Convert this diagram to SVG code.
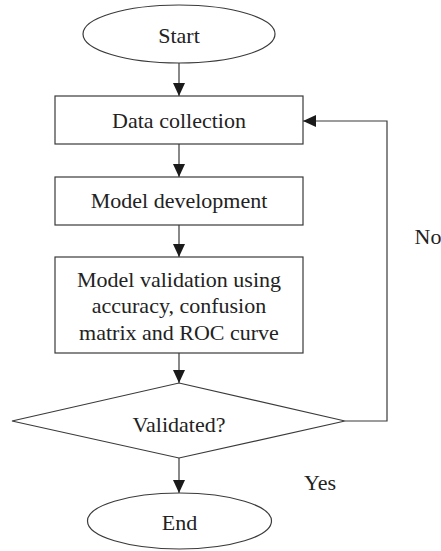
<svg xmlns="http://www.w3.org/2000/svg" width="441" height="551" viewBox="0 0 441 551">
  <style>
    .shape { fill: #ffffff; stroke: #3a3a3a; stroke-width: 1.2; }
    .line { fill: none; stroke: #3a3a3a; stroke-width: 1.2; }
    .label { font-family: "Liberation Serif", "Times New Roman", serif; font-size: 22px; fill: #222222; text-anchor: middle; }
  </style>
  <defs>
    <marker id="arrow" markerUnits="userSpaceOnUse" markerWidth="14" markerHeight="12" viewBox="0 0 14 12" refX="13" refY="6" orient="auto">
      <path d="M0,0 L13,6 L0,12 Z" fill="#1a1a1a"/>
    </marker>
  </defs>
  <rect width="441" height="551" fill="#ffffff"/>

  <g id="connectors">
    <line class="line" x1="179" y1="63" x2="179" y2="96" marker-end="url(#arrow)"/>
    <line class="line" x1="179" y1="144" x2="179" y2="177" marker-end="url(#arrow)"/>
    <line class="line" x1="179" y1="225" x2="179" y2="257" marker-end="url(#arrow)"/>
    <line class="line" x1="179" y1="353" x2="179" y2="383" marker-end="url(#arrow)"/>
    <line class="line" x1="179" y1="458" x2="179" y2="493" marker-end="url(#arrow)"/>
    <polyline class="line" points="345,421 387,421 387,121 303,121" marker-end="url(#arrow)"/>
    <text class="label" x="428" y="244">No</text>
    <text class="label" x="320" y="490">Yes</text>
  </g>

  <g id="start">
    <ellipse class="shape" cx="179" cy="34" rx="96" ry="29"/>
    <text class="label" x="179" y="43">Start</text>
  </g>

  <g id="data-collection">
    <rect class="shape" x="55" y="96" width="248" height="48"/>
    <text class="label" x="179" y="128">Data collection</text>
  </g>

  <g id="model-development">
    <rect class="shape" x="55" y="177" width="248" height="48"/>
    <text class="label" x="179" y="208">Model development</text>
  </g>

  <g id="model-validation">
    <rect class="shape" x="55" y="257" width="248" height="96"/>
    <text class="label" x="179" y="287">Model validation using</text>
    <text class="label" x="179" y="313">accuracy, confusion</text>
    <text class="label" x="179" y="340">matrix and ROC curve</text>
  </g>

  <g id="validated">
    <polygon class="shape" points="179,383 345,421 179,458 12,421"/>
    <text class="label" x="179" y="432">Validated?</text>
  </g>

  <g id="end">
    <ellipse class="shape" cx="179.5" cy="521" rx="92" ry="28"/>
    <text class="label" x="179.5" y="530">End</text>
  </g>
</svg>
